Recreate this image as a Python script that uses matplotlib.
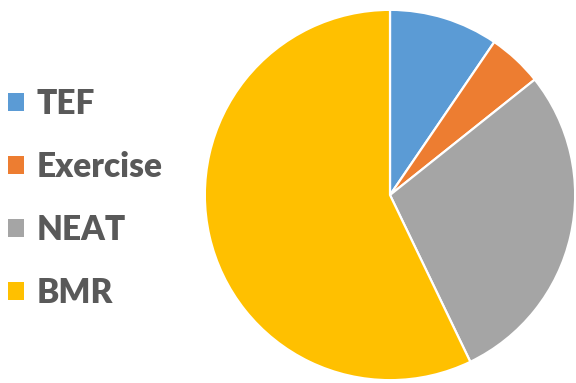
import matplotlib.pyplot as plt

labels = ['TEF', 'Exercise', 'NEAT', 'BMR']
values = [10, 5, 30, 60]
colors = ['#5B9BD5', '#ED7D31', '#A5A5A5', '#FFC000']

fig = plt.figure(figsize=(5.76, 3.83), dpi=100)
ax = fig.add_axes([203/576, 1/383, 374/576, 374/383])

wedges, _ = ax.pie(values, colors=colors, startangle=90, counterclock=False,
                   radius=1, wedgeprops=dict(edgecolor='white', linewidth=1.6))
ax.set_xlim(-1.01, 1.01)
ax.set_ylim(-1.01, 1.01)
ax.set_aspect('equal')

leg = fig.legend(wedges, labels, loc='center left', bbox_to_anchor=(-0.009, 0.482),
                 frameon=False, handlelength=0.47, handleheight=0.45,
                 handletextpad=0.38, labelspacing=0.93, borderaxespad=0.0,
                 prop=dict(family='Lato', weight='heavy', size=24))
for t in leg.get_texts():
    t.set_color('#595959')
for h in leg.legend_handles:
    h.set_edgecolor('none')

fig.savefig('out.png', dpi=100)
